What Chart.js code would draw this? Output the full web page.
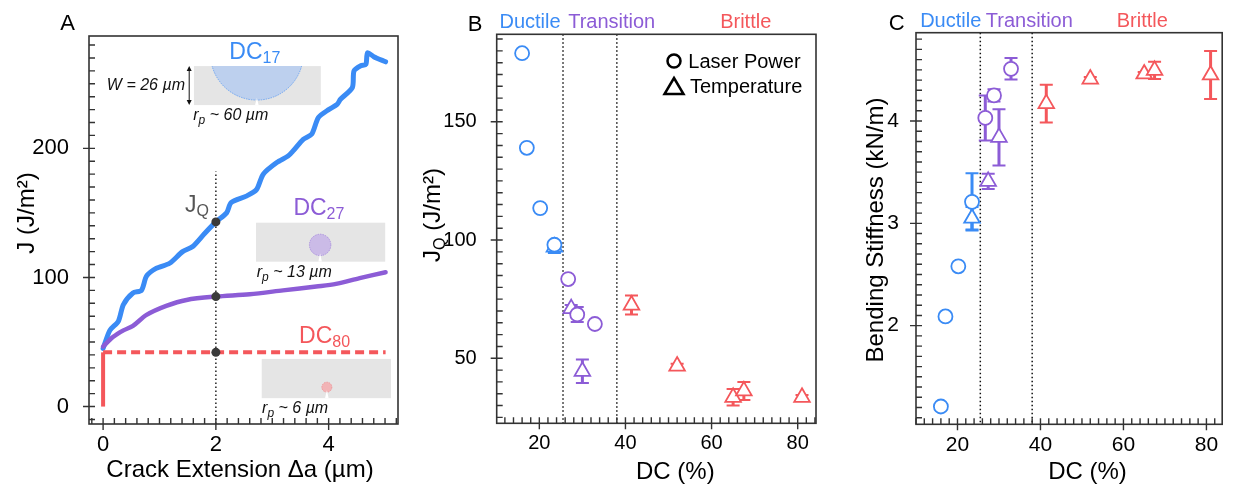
<!DOCTYPE html>
<html>
<head>
<meta charset="utf-8">
<script src="https://cdn.jsdelivr.net/npm/chart.js@4"></script>
<style>
  html, body { margin: 0; padding: 0; background: #fff; overflow: hidden; }
  #wrap { position: relative; width: 1233px; height: 485px; }
  .panel { position: absolute; top: 0; height: 485px; }
</style>
</head>
<body>
<div id="wrap">
  <div class="panel" style="left:0;width:415px"><canvas id="chartA"></canvas></div>
  <div class="panel" style="left:415px;width:415px"><canvas id="chartB"></canvas></div>
  <div class="panel" style="left:830px;width:403px"><canvas id="chartC"></canvas></div>
</div>
<script>
// ---- panel A: J-R curves ----
const dc17X = [0, 0.12, 0.27, 0.36, 0.53, 0.68, 0.77, 0.94, 1.18, 1.41, 1.59, 1.80, 2.0, 2.19, 2.27, 2.54, 2.72, 2.84, 3.08, 3.28, 3.37, 3.55, 3.70, 3.82, 4.0, 4.15, 4.21, 4.42, 4.45, 4.57, 4.66, 4.69, 4.80, 5.01];
const dc17J = [45, 59, 66, 79, 88, 90, 101, 107, 111, 120, 124, 134, 143, 150, 158, 163, 168, 180, 189, 194, 198, 207, 211, 224, 230, 234, 238, 247, 260, 264, 265, 274, 271, 267];
const dc27X = [0, 0.18, 0.36, 0.53, 0.77, 1.12, 1.48, 2.0, 2.6, 3.19, 3.78, 4.13, 4.55, 5.01];
const dc27J = [46.5, 54, 59, 62.5, 71, 78, 82.6, 85.2, 87, 90, 93, 95, 99.5, 104];
const dc80X = [0, 0, 5.01];
const dc80J = [0, 42, 42];
const jqX = [2, 2, 2];
const jqJ = [143, 85.2, 42];
const aXTicks = [0, 2, 4];
const aYTicks = [0, 100, 200];

// ---- panels B and C: laser power (circles) and temperature (triangles) ----
const lpDC = [16, 17.1, 20.2, 23.5, 26.7, 28.8, 32.9];
const tempDC = [23.5, 27.4, 30.0, 41.4, 52.0, 65.0, 67.5, 81.0];
const lpJQ = [179, 139, 113.5, 98, 83.5, 68.5, 64.5];
const lpJQErr = [0, 0, 0, 1.5, 0, 3.2, 0];
const tempJQ = [97, 71, 44.5, 72.5, 46.7, 33.5, 36.2, 33.5];
const tempJQErr = [2.5, 1.5, 5, 4, 1, 3.5, 3.8, 1];
const lpStiff = [1.21, 2.09, 2.58, 3.21, 4.03, 4.25, 4.51];
const lpStiffErr = [0, 0, 0, 0.28, 0.22, 0.06, 0.105];
const tempStiff = [3.05, 3.41, 3.84, 4.17, 4.41, 4.46, 4.495, 4.45];
const tempStiffErr = [0.11, 0.075, 0.275, 0.185, 0.02, 0.02, 0.085, 0.235];
const regionBounds = [25.5, 38];
const dcTicks = [20, 40, 60, 80];
const bYTicks = [50, 100, 150];
const cYTicks = [2, 3, 4];

const FONT = '"Liberation Sans", Arial, Helvetica, sans-serif';
const BLUE = '#3a8bf5', PURPLE = '#8c5cd6', RED = '#f4575b';

function regionColor(dc) {
  return dc < regionBounds[0] ? BLUE : dc < regionBounds[1] ? PURPLE : RED;
}
function pts(xs, ys) { return xs.map((v, i) => ({x: v, y: ys[i]})); }

// text made of runs: [text, font, dy]
function drawRuns(ctx, runs, x, y, align, color, rotate) {
  ctx.save();
  ctx.translate(x, y);
  if (rotate) ctx.rotate(-Math.PI / 2);
  ctx.fillStyle = color || '#000';
  ctx.textAlign = 'left';
  ctx.textBaseline = 'alphabetic';
  let w = 0;
  runs.forEach(r => { ctx.font = r[1] + ' ' + FONT; w += ctx.measureText(r[0]).width; });
  let cx = align === 'center' ? -w / 2 : align === 'right' ? -w : 0;
  runs.forEach(r => {
    ctx.font = r[1] + ' ' + FONT;
    ctx.fillText(r[0], cx, r[2]);
    cx += ctx.measureText(r[0]).width;
  });
  ctx.restore();
}

function axis(pos, min, max, tickVals, size, pad, fit) {
  return {
    type: 'linear', position: pos, min: min, max: max,
    grid: {display: false}, border: {display: false},
    afterBuildTicks: s => { s.ticks = tickVals.map(v => ({value: v})); },
    afterFit: s => { if (pos === 'left') s.width = fit; else s.height = fit; },
    ticks: {color: '#000', font: {family: FONT, size: size}, padding: pad, maxRotation: 0, autoSkip: false}
  };
}

// box around the plot, outer major ticks, inner minor ticks
const framePlugin = {
  id: 'frame',
  afterDraw(chart, args, opts) {
    const {ctx, chartArea: a, scales: {x, y}} = chart;
    ctx.save();
    ctx.strokeStyle = '#333';
    ctx.lineWidth = 1.6;
    ctx.strokeRect(a.left, a.top, a.right - a.left, a.bottom - a.top);
    ctx.lineWidth = 1.4;
    ctx.beginPath();
    const i0 = Math.ceil(x.min / opts.xMinor - 1e-6), i1 = Math.floor(x.max / opts.xMinor + 1e-6);
    for (let i = i0; i <= i1; i++) {
      const px = x.getPixelForValue(i * opts.xMinor);
      ctx.moveTo(px, a.bottom); ctx.lineTo(px, a.bottom - 6);
    }
    const j0 = Math.ceil(y.min / opts.yMinor - 1e-6), j1 = Math.floor(y.max / opts.yMinor + 1e-6);
    for (let j = j0; j <= j1; j++) {
      const py = y.getPixelForValue(j * opts.yMinor);
      ctx.moveTo(a.left, py); ctx.lineTo(a.left + 6, py);
    }
    x.ticks.forEach(t => {
      const px = x.getPixelForValue(t.value);
      ctx.moveTo(px, a.bottom); ctx.lineTo(px, a.bottom + 6);
    });
    y.ticks.forEach(t => {
      const py = y.getPixelForValue(t.value);
      ctx.moveTo(a.left, py); ctx.lineTo(a.left - 6, py);
    });
    ctx.stroke();
    ctx.restore();
    (opts.texts || []).forEach(t => drawRuns(ctx, t.runs, t.x, t.y, t.align, t.color, t.rotate));
  }
};

// ---- panel A extras ----
const insetBoxes = [
  {x0: 1.611, x1: 3.861, y0: 233.5, y1: 263.7, cx: 2.727, cy: 273.4, r: 46.5, fill: '#bdd0ee', stroke: '#5d9cf2'},
  {x0: 2.712, x1: 5.003, y0: 112.2, y1: 142.4, cx: 3.849, cy: 125.2, r: 10.7, fill: '#cbbbe7', stroke: '#a386dc'},
  {x0: 2.813, x1: 5.105, y0: 6.5, y1: 36.9, cx: 3.968, cy: 15.0, r: 5, fill: '#f2b4b6', stroke: '#ef8d90'}
];
const aLabels = [
  {x: 2.238, y: 268.9, color: BLUE, runs: [['DC', '23px', 0], ['17', '16px', 4]]},
  {x: 3.375, y: 148.4, color: PURPLE, runs: [['DC', '23px', 0], ['27', '16px', 4]]},
  {x: 3.476, y: 49.1, color: RED, runs: [['DC', '23px', 0], ['80', '16px', 4]]},
  {x: 1.451, y: 150.9, color: '#555', runs: [['J', '23px', 0], ['Q', '16px', 4]]},
  {x: 0.067, y: 244.8, color: '#111', runs: [['W = 26 µm', 'italic 16px', 0]]},
  {x: 1.599, y: 221.9, color: '#111', runs: [['r', 'italic 16px', 0], ['p', 'italic 12px', 4], [' ~ 60 µm', 'italic 16px', 0]]},
  {x: 2.725, y: 100.6, color: '#111', runs: [['r', 'italic 16px', 0], ['p', 'italic 12px', 4], [' ~ 13 µm', 'italic 16px', 0]]},
  {x: 2.819, y: -5.1, color: '#111', runs: [['r', 'italic 16px', 0], ['p', 'italic 12px', 4], [' ~ 6 µm', 'italic 16px', 0]]}
];

const panelAPlugin = {
  id: 'panelA',
  beforeDatasetsDraw(chart) {
    const {ctx, chartArea: a, scales: {x, y}} = chart;
    ctx.save();
    ctx.strokeStyle = '#222';
    ctx.lineWidth = 1.5;
    ctx.setLineDash([1.5, 2.5]);
    ctx.beginPath();
    ctx.moveTo(x.getPixelForValue(2), a.bottom);
    ctx.lineTo(x.getPixelForValue(2), y.getPixelForValue(182));
    ctx.stroke();
    ctx.restore();
  },
  afterDatasetsDraw(chart) {
    const {ctx, scales: {x, y}} = chart;
    const X = v => x.getPixelForValue(v), Y = v => y.getPixelForValue(v);
    insetBoxes.forEach(b => {
      const l = X(b.x0), r = X(b.x1), t = Y(b.y1), bt = Y(b.y0);
      ctx.save();
      ctx.fillStyle = '#e5e5e5';
      ctx.fillRect(l, t, r - l, bt - t);
      ctx.beginPath(); ctx.rect(l, t, r - l, bt - t); ctx.clip();
      const cx = X(b.cx), cy = Y(b.cy);
      ctx.beginPath(); ctx.arc(cx, cy, b.r, 0, 2 * Math.PI);
      ctx.fillStyle = b.fill; ctx.fill();
      ctx.setLineDash([1.5, 1]); ctx.lineWidth = 0.8; ctx.strokeStyle = b.stroke; ctx.stroke();
      ctx.setLineDash([]);
      ctx.fillStyle = '#fff';
      ctx.beginPath();
      ctx.moveTo(cx - 1.8, bt); ctx.lineTo(cx + 1.8, bt); ctx.lineTo(cx, cy + b.r - 2);
      ctx.closePath(); ctx.fill();
      ctx.restore();
    });
    // width arrow
    const ax = X(1.527), ta = Y(263.7), ba = Y(233.5);
    ctx.save();
    ctx.strokeStyle = '#111'; ctx.fillStyle = '#111'; ctx.lineWidth = 1;
    ctx.beginPath(); ctx.moveTo(ax, ta + 3); ctx.lineTo(ax, ba - 3); ctx.stroke();
    ctx.beginPath(); ctx.moveTo(ax, ta); ctx.lineTo(ax - 2.5, ta + 5); ctx.lineTo(ax + 2.5, ta + 5); ctx.closePath(); ctx.fill();
    ctx.beginPath(); ctx.moveTo(ax, ba); ctx.lineTo(ax - 2.5, ba - 5); ctx.lineTo(ax + 2.5, ba - 5); ctx.closePath(); ctx.fill();
    ctx.restore();
    aLabels.forEach(t => drawRuns(ctx, t.runs, X(t.x), Y(t.y), 'left', t.color));
  }
};

new Chart(document.getElementById('chartA'), {
  type: 'scatter',
  data: {
    datasets: [
      {data: pts(jqX, jqJ), pointRadius: 4.5, pointBackgroundColor: '#3a3a3a', pointBorderWidth: 0},
      {data: pts(dc80X, dc80J), showLine: true, borderColor: RED, borderWidth: 4, pointRadius: 0,
        borderCapStyle: 'butt', segment: {borderDash: c => c.p0DataIndex === 0 ? [] : [9, 5]}},
      {data: pts(dc27X, dc27J), showLine: true, borderColor: PURPLE, borderWidth: 4.5, pointRadius: 0,
        tension: 0.3, borderCapStyle: 'round', borderJoinStyle: 'round'},
      {data: pts(dc17X, dc17J), showLine: true, borderColor: BLUE, borderWidth: 5, pointRadius: 0,
        tension: 0.25, borderCapStyle: 'round', borderJoinStyle: 'round'}
    ]
  },
  options: {
    responsive: true, maintainAspectRatio: false, animation: false, events: [],
    layout: {padding: {left: 0, right: 17, top: 36, bottom: 0}},
    scales: {
      x: axis('bottom', -0.25, 5.23, aXTicks, 22, 0, 61),
      y: axis('left', -13.5, 287, aYTicks, 22, 12, 89)
    },
    plugins: {
      legend: {display: false}, tooltip: {enabled: false},
      frame: {xMinor: 0.2, yMinor: 10, texts: [
        {runs: [['A', '22px', 0]], x: 67.5, y: 30, align: 'center'},
        {runs: [['Crack Extension Δa (µm)', '24px', 0]], x: 240, y: 476.5, align: 'center'},
        {runs: [['J (J/m²)', '24px', 0]], x: 33.5, y: 213, align: 'center', rotate: true}
      ]}
    }
  },
  plugins: [panelAPlugin, framePlugin]
});

// ---- panels B and C ----
const regionPlugin = {
  id: 'regions',
  beforeDatasetsDraw(chart) {
    const {ctx, chartArea: a, scales: {x, y}} = chart;
    ctx.save();
    ctx.strokeStyle = '#111';
    ctx.lineWidth = 1.5;
    ctx.setLineDash([1.5, 2.5]);
    regionBounds.forEach(b => {
      const px = x.getPixelForValue(b);
      ctx.beginPath(); ctx.moveTo(px, a.top); ctx.lineTo(px, a.bottom); ctx.stroke();
    });
    ctx.setLineDash([]);
    chart.data.datasets.forEach(ds => {
      ds.data.forEach((p, i) => {
        const e = ds.errs[i];
        if (!e) return;
        const px = x.getPixelForValue(p.x);
        const top = y.getPixelForValue(p.y + e), bot = y.getPixelForValue(p.y - e);
        ctx.strokeStyle = regionColor(p.x);
        ctx.lineWidth = 3;
        ctx.beginPath(); ctx.moveTo(px, top); ctx.lineTo(px, bot); ctx.stroke();
        ctx.lineWidth = 2;
        ctx.beginPath();
        ctx.moveTo(px - 6.5, top); ctx.lineTo(px + 6.5, top);
        ctx.moveTo(px - 6.5, bot); ctx.lineTo(px + 6.5, bot);
        ctx.stroke();
      });
    });
    ctx.restore();
  }
};

function markerSets(lpVals, lpErr, tVals, tErr) {
  const col = c => c.raw ? regionColor(c.raw.x) : '#000';
  return [
    {label: 'Laser Power', data: pts(lpDC, lpVals), errs: lpErr, pointStyle: 'circle', pointRadius: 7,
      pointBorderWidth: 1.8, pointBackgroundColor: '#fff', pointBorderColor: col},
    {label: 'Temperature', data: pts(tempDC, tVals), errs: tErr, pointStyle: 'triangle', pointRadius: 9,
      pointBorderWidth: 1.8, pointBackgroundColor: '#fff', pointBorderColor: col}
  ];
}

const legendPlugin = {
  id: 'markerLegend',
  afterDraw(chart) {
    const ctx = chart.ctx;
    ctx.save();
    ctx.strokeStyle = '#000'; ctx.lineWidth = 2.5;
    ctx.beginPath(); ctx.arc(259, 61, 6.5, 0, 2 * Math.PI); ctx.stroke();
    ctx.beginPath(); ctx.moveTo(259, 78); ctx.lineTo(268.5, 94); ctx.lineTo(249.5, 94); ctx.closePath(); ctx.stroke();
    ctx.restore();
    drawRuns(ctx, [['Laser Power', '20px', 0]], 273.3, 68.3, 'left', '#000');
    drawRuns(ctx, [['Temperature', '20px', 0]], 275, 92.7, 'left', '#000');
  }
};

new Chart(document.getElementById('chartB'), {
  type: 'scatter',
  data: {datasets: markerSets(lpJQ, lpJQErr, tempJQ, tempJQErr)},
  options: {
    responsive: true, maintainAspectRatio: false, animation: false, events: [],
    layout: {padding: {left: 0, right: 14, top: 34.3, bottom: 0}},
    scales: {
      x: axis('bottom', 10.1, 84.25, dcTicks, 20, 0, 61.7),
      y: axis('left', 22.5, 187, bYTicks, 20, 12, 81.7)
    },
    plugins: {
      legend: {display: false}, tooltip: {enabled: false},
      frame: {xMinor: 2, yMinor: 5, texts: [
        {runs: [['B', '22px', 0]], x: 60, y: 30.7, align: 'center'},
        {runs: [['Ductile', '20px', 0]], x: 115, y: 28.3, align: 'center', color: BLUE},
        {runs: [['Transition', '20px', 0]], x: 196.7, y: 28.3, align: 'center', color: PURPLE},
        {runs: [['Brittle', '20px', 0]], x: 330.7, y: 28.3, align: 'center', color: RED},
        {runs: [['DC (%)', '24px', 0]], x: 260.3, y: 479, align: 'center'},
        {runs: [['J', '24px', 0], ['Q', '16px', 5], [' (J/m²)', '24px', 0]], x: 25, y: 215, align: 'center', rotate: true}
      ]}
    }
  },
  plugins: [regionPlugin, framePlugin, legendPlugin]
});

new Chart(document.getElementById('chartC'), {
  type: 'scatter',
  data: {datasets: markerSets(lpStiff, lpStiffErr, tempStiff, tempStiffErr)},
  options: {
    responsive: true, maintainAspectRatio: false, animation: false, events: [],
    layout: {padding: {left: 0, right: 1, top: 32.7, bottom: 0}},
    scales: {
      x: axis('bottom', 10, 83.8, dcTicks, 21, 0, 60.7),
      y: axis('left', 1.036, 4.863, cYTicks, 21, 9, 86)
    },
    plugins: {
      legend: {display: false}, tooltip: {enabled: false},
      frame: {xMinor: 2, yMinor: 0.1, texts: [
        {runs: [['C', '22px', 0]], x: 66.7, y: 30, align: 'center'},
        {runs: [['Ductile', '20px', 0]], x: 120.7, y: 26.7, align: 'center', color: BLUE},
        {runs: [['Transition', '20px', 0]], x: 199.3, y: 26.7, align: 'center', color: PURPLE},
        {runs: [['Brittle', '20px', 0]], x: 312.3, y: 26.7, align: 'center', color: RED},
        {runs: [['DC (%)', '24px', 0]], x: 257.5, y: 479, align: 'center'},
        {runs: [['Bending Stiffness (kN/m)', '24px', 0]], x: 53, y: 230, align: 'center', rotate: true}
      ]}
    }
  },
  plugins: [regionPlugin, framePlugin]
});
</script>
</body>
</html>
